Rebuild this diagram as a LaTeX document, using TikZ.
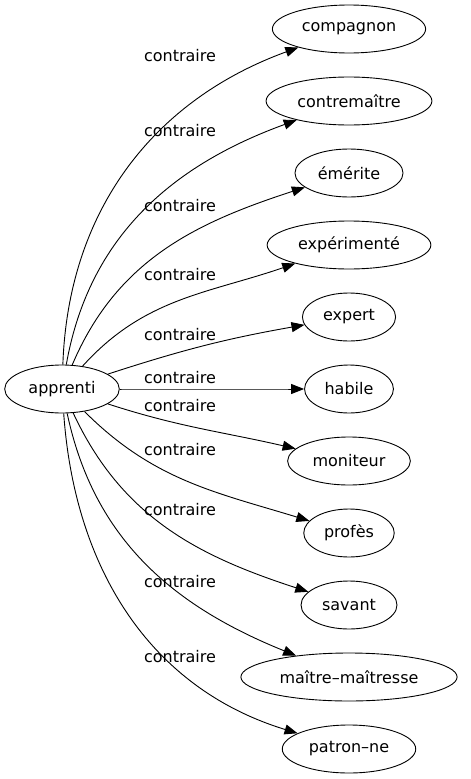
\documentclass[tikz,border=0pt]{standalone}
\usepackage{fontspec}
\setmainfont{DejaVu Sans}
\usepackage{tikz}
\usetikzlibrary{shapes,arrows}
\usetikzlibrary{arrows.meta}

\begin{document}
\begin{tikzpicture}[x=1pt, y=1pt,
	word/.style={draw, ellipse, line width=0.9pt, inner xsep=7pt, minimum height=48pt, font=\fontsize{16}{19}\selectfont},
	rel/.style={font=\fontsize{16}{19}\selectfont, inner sep=0pt},
	link/.style={line width=0.9pt, -{Triangle[length=13pt, width=10pt]}}]
	
	\useasboundingbox (0,0) rectangle (471,-779);
	
	% Draw source word
	\node[word] (ap) at (62,-389) {apprenti};
	
	% Draw opposite words
	\foreach \name/\txt [count=\i from 0] in {comp/compagnon, contre/contremaître, emer/émérite, exper/expérimenté, expe/expert, hab/habile, mon/moniteur, prof/profès, sav/savant, mait/maître–maîtresse, pat/patron–ne}
		\node[word] (\name) at (349,{-29-72*\i}) {\txt};
	
	% Draw links
	\foreach \name/\a/\b in {comp/88/200, contre/80/200, emer/67/198, exper/48/199, expe/18/190, hab/0/180, mon/-18/167, prof/-45/163, sav/-65/162, mait/-78/158, pat/-86/163}
		\draw[link] (ap) to[out=\a, in=\b] (\name);
	
	% Label links
	\foreach \y [count=\i] in {56, 131, 206, 275, 335, 378, 406, 450, 510, 582, 657}
		\node[rel] (rel\i) at (180,-\y) {contraire};
	
\end{tikzpicture}
\end{document}
